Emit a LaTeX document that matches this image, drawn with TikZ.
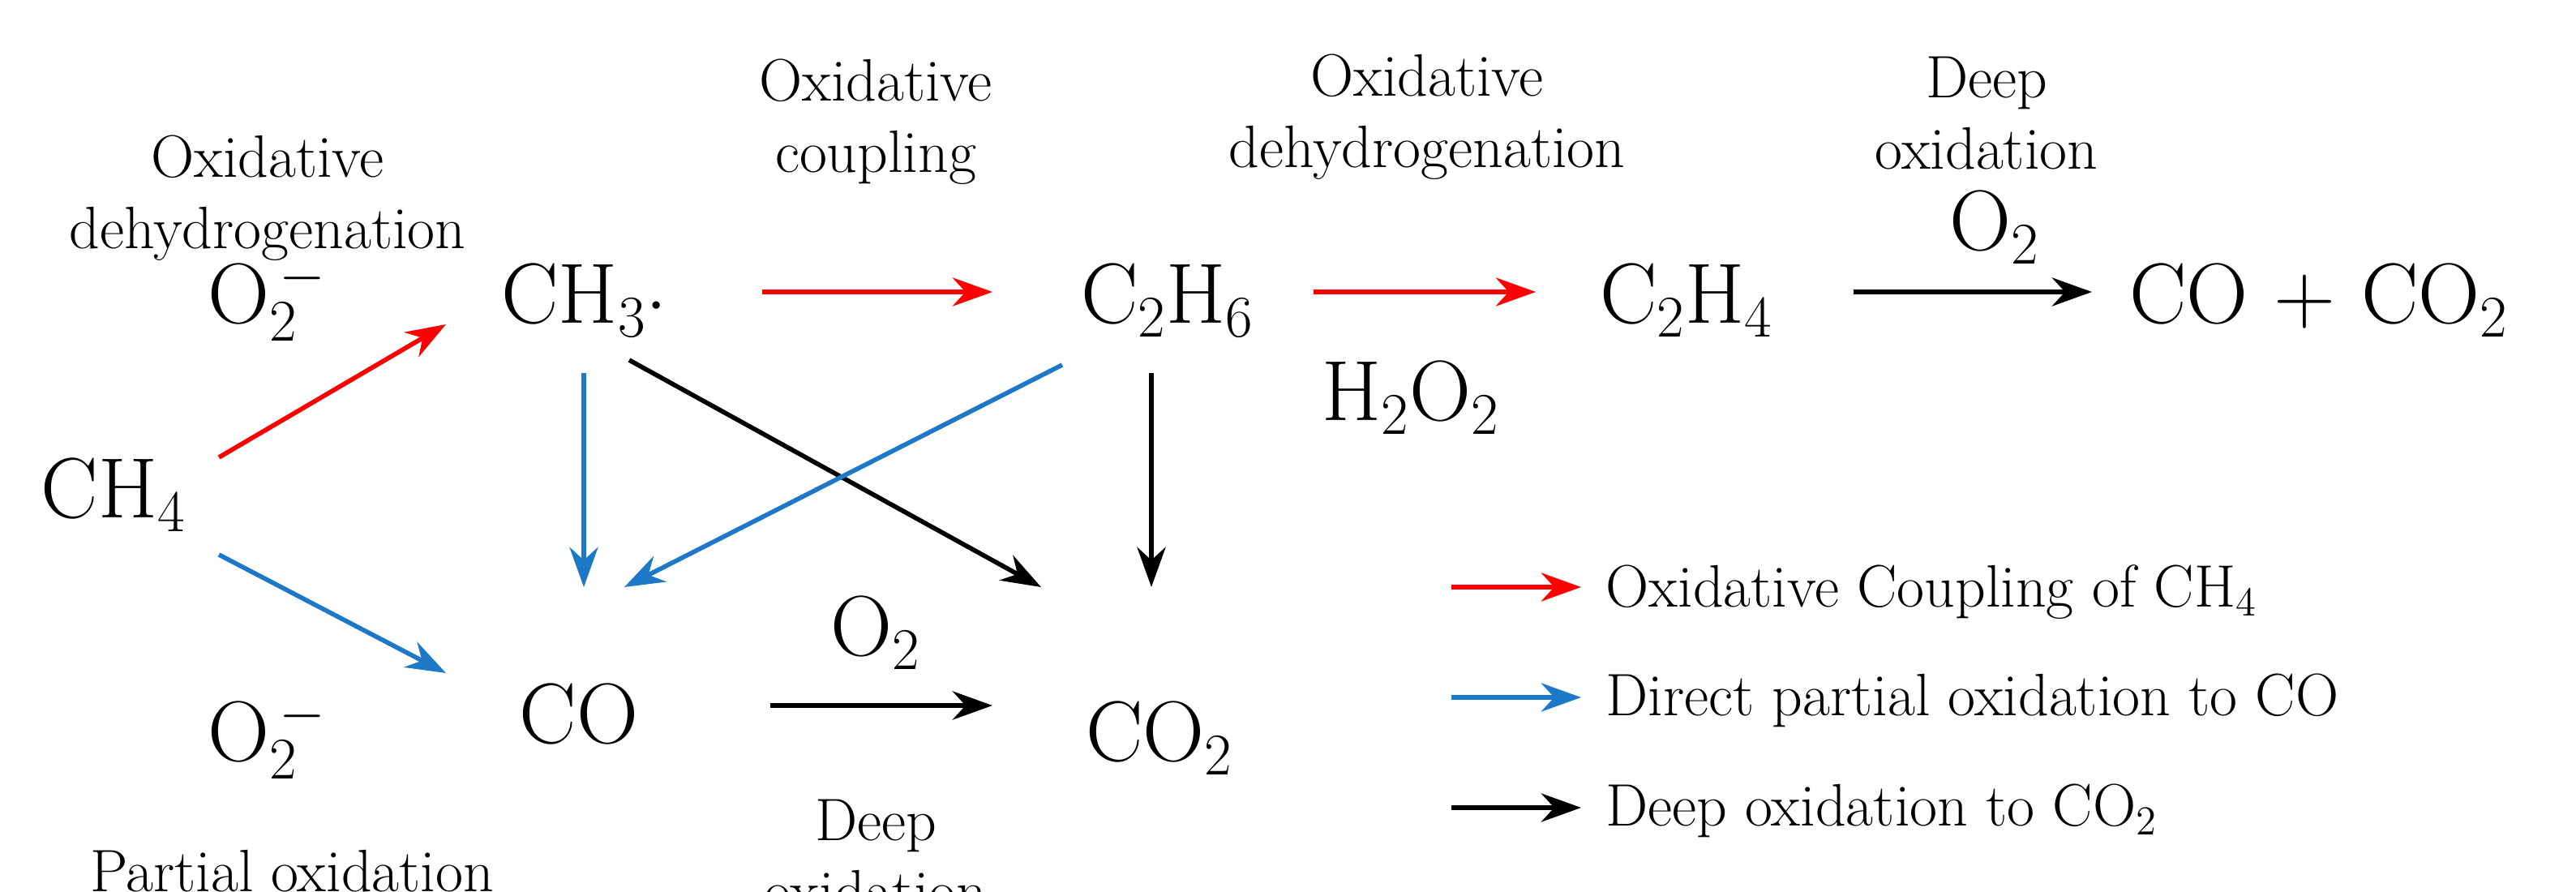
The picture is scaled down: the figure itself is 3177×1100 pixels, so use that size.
\documentclass[tikz,border=0pt]{standalone}
\usetikzlibrary{arrows.meta}
\definecolor{cred}{RGB}{255,0,0}
\definecolor{cblue}{RGB}{30,120,200}
\tikzset{
  big/.style={font=\fontsize{30}{34}\selectfont, inner sep=0pt},
  lab/.style={font=\fontsize{21}{25}\selectfont, inner sep=0pt, align=center},
  leg/.style={font=\fontsize{21}{25}\selectfont, inner sep=0pt, anchor=west},
  arr/.style={line width=1.6pt, -{Stealth[length=14pt,width=10pt]}},
  ra/.style={arr, draw=cred},
  ba/.style={arr, draw=cblue},
  ka/.style={arr, draw=black}
}
\begin{document}
\begin{tikzpicture}[x=0.01cm,y=-0.01cm]
\useasboundingbox (0,0) rectangle (3177,1100);
\begin{scope}[scale=2.0]
\node[big] (ch4) at (70,305) {CH$_4$};
\node[big] (o2a) at (165,185) {O$_2^{\,-}$};
\node[big] (o2b) at (165,455) {O$_2^{\,-}$};
\node[lab] (ldh) at (165,122) {Oxidative\\dehydrogenation};
\node[lab] (lpo) at (180,537) {Partial oxidation};
\node[big] (ch3) at (360,185) {CH$_3$$\cdot$};
\node[big] (co) at (357,440) {CO};
\node[big] (c2h6) at (720,185) {C$_2$H$_6$};
\node[big] (co2) at (715,455) {CO$_2$};
\node[big] (c2h4) at (1040,185) {C$_2$H$_4$};
\node[big] (coco2) at (1430,185) {CO + CO$_2$};
\node[lab] (loc) at (540,75) {Oxidative\\coupling};
\node[lab] (lodh) at (880,72) {Oxidative\\dehydrogenation};
\node[lab] (ldo) at (1225,70) {Deep\\oxidation};
\node[big] (o2c) at (1230,140) {O$_2$};
\node[big] (h2o2) at (870,245) {H$_2$O$_2$};
\node[big] (o2d) at (540,390) {O$_2$};
\node[lab] (ldo2) at (540,528) {Deep\\oxidation};
\coordinate (a1) at (135,282); \coordinate (a2) at (275,200);
\coordinate (b1) at (135,342); \coordinate (b2) at (275,415);
\coordinate (c1) at (470,180); \coordinate (c2) at (612,180);
\coordinate (d1) at (360,230); \coordinate (d2) at (360,362);
\coordinate (e1) at (388,222); \coordinate (e2) at (642,362);
\coordinate (f1) at (655,225); \coordinate (f2) at (385,362);
\coordinate (g1) at (710,230); \coordinate (g2) at (710,362);
\coordinate (h1) at (475,435); \coordinate (h2) at (612,435);
\coordinate (i1) at (810,180); \coordinate (i2) at (947,180);
\coordinate (j1) at (1143,180); \coordinate (j2) at (1290,180);
\draw[ra] (a1) -- (a2);
\draw[ba] (b1) -- (b2);
\draw[ra] (c1) -- (c2);
\draw[ba] (d1) -- (d2);
\draw[ka] (e1) -- (e2);
\draw[ba] (f1) -- (f2);
\draw[ka] (g1) -- (g2);
\draw[ka] (h1) -- (h2);
\draw[ra] (i1) -- (i2);
\draw[ka] (j1) -- (j2);
\coordinate (l1a) at (895,362); \coordinate (l1b) at (975,362);
\coordinate (l2a) at (895,430); \coordinate (l2b) at (975,430);
\coordinate (l3a) at (895,498); \coordinate (l3b) at (975,498);
\draw[ra] (l1a) -- (l1b);
\draw[ba] (l2a) -- (l2b);
\draw[ka] (l3a) -- (l3b);
\node[leg] (t1) at (990,365) {Oxidative Coupling of CH$_4$};
\node[leg] (t2) at (990,432) {Direct partial oxidation to CO};
\node[leg] (t3) at (990,500) {Deep oxidation to CO$_2$};
\end{scope}
\end{tikzpicture}
\end{document}
